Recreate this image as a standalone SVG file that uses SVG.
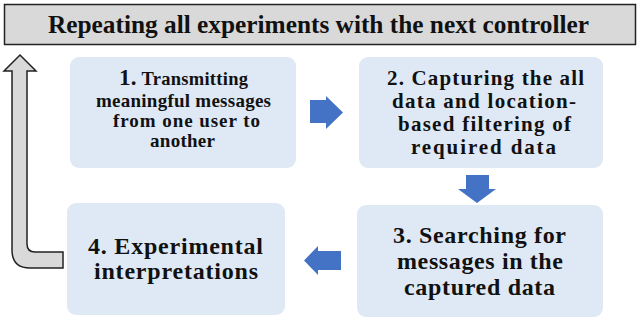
<svg xmlns="http://www.w3.org/2000/svg" width="640" height="327" viewBox="0 0 640 327">
<style>
.box{fill:#dfe9f5;stroke:none}
.t{font-family:"Liberation Serif","Times New Roman",serif;font-weight:bold;fill:#111}
.blue{fill:#4472c4}
</style>
<rect width="640" height="327" fill="#fff"/>
<g id="banner">
<rect x="4.5" y="4.5" width="631" height="40" fill="#d9d9d9" stroke="#222" stroke-width="1.5"/>
<text class="t" x="48" y="33" font-size="26" textLength="541" lengthAdjust="spacingAndGlyphs">Repeating all experiments with the next controller</text>
</g>
<g id="connectors">
<path class="blue" d="M310 100 H326 V96 L343 112.5 L326 129 V123 H310 Z"/>
<path class="blue" d="M466 175 H489 V189 H496 L477 203 L458 189 H466 Z"/>
<path class="blue" d="M341 251 H318 V246 L304 260.5 L318 275 V270 H341 Z"/>
<path d="M63 252 H35 Q27 252 27 244 V71 H36 L20 55 L4 71 H12 V250 Q12 268 30 268 H63 Z" fill="#d9d9d9" stroke="#222" stroke-width="1.5"/>
</g>
<g id="node1">
<rect class="box" x="70" y="57" width="226" height="111" rx="9"/>
<text class="t" x="119" y="85" font-size="18.5" textLength="129"><tspan font-size="23">1.</tspan> Transmitting</text>
<text class="t" x="96" y="107" font-size="19" textLength="175">meaningful messages</text>
<text class="t" x="113" y="127" font-size="19" textLength="147">from one user to</text>
<text class="t" x="150" y="147" font-size="19" textLength="65">another</text>
</g>
<g id="node2">
<rect class="box" x="359" y="57" width="244" height="111" rx="9"/>
<text class="t" x="387" y="85" font-size="21" textLength="197">2. Capturing the all</text>
<text class="t" x="392" y="108" font-size="21" textLength="184">data and location-</text>
<text class="t" x="398" y="131" font-size="21" textLength="173">based filtering of</text>
<text class="t" x="411" y="154" font-size="21" textLength="145">required data</text>
</g>
<g id="node3">
<rect class="box" x="357" y="205" width="246" height="112" rx="9"/>
<text class="t" x="393" y="243" font-size="24" textLength="173">3. Searching for</text>
<text class="t" x="397" y="269" font-size="24" textLength="166">messages in the</text>
<text class="t" x="404" y="295" font-size="24" textLength="151">captured data</text>
</g>
<g id="node4">
<rect class="box" x="67" y="203" width="218" height="112" rx="9"/>
<text class="t" x="88" y="254" font-size="24" textLength="175">4. Experimental</text>
<text class="t" x="94" y="279" font-size="24" textLength="164">interpretations</text>
</g>
</svg>
